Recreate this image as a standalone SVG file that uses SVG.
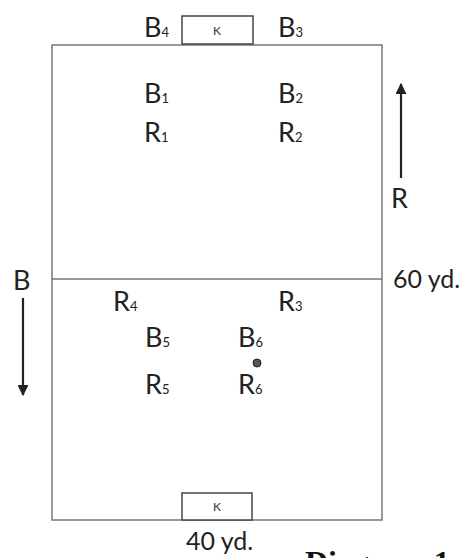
<svg xmlns="http://www.w3.org/2000/svg" width="467" height="558" viewBox="0 0 467 558">
  <style>
    .line { stroke: #777; stroke-width: 1.5; fill: none; }
    .goal { stroke: #444; stroke-width: 1.5; fill: #fff; }
    .arrow { stroke: #222; stroke-width: 2.2; fill: none; }
    .lbl { font-family: Lato, "Open Sans", sans-serif; font-size: 27px; fill: #222; }
    .sub { font-size: 13px; }
    .dim { font-family: Lato, "Open Sans", sans-serif; font-size: 25px; fill: #222; }
    .k { font-family: Lato, "Open Sans", sans-serif; font-size: 12px; fill: #333; text-anchor: middle; }
    .cap { font-family: "Liberation Serif", serif; font-weight: bold; font-size: 32px; fill: #111; }
  </style>
  <defs>
    <marker id="head" viewBox="0 0 10 10" refX="9" refY="5" markerWidth="5" markerHeight="5" orient="auto">
      <path d="M0,0 L10,5 L0,10 z" fill="#222"/>
    </marker>
  </defs>

  <!-- pitch outline and halfway line -->
  <g id="pitch">
    <rect class="line" x="52" y="45" width="330" height="475"/>
    <line class="line" x1="52" y1="279" x2="382" y2="279"/>
  </g>

  <!-- goals -->
  <g id="goal-top">
    <rect class="goal" x="182" y="16" width="71" height="28"/>
    <text class="k" x="217" y="35">K</text>
  </g>
  <g id="goal-bottom">
    <rect class="goal" x="182" y="493" width="70" height="27"/>
    <text class="k" x="217" y="511">K</text>
  </g>

  <!-- players -->
  <g id="B4"><text class="lbl" x="144" y="37">B<tspan class="sub">4</tspan></text></g>
  <g id="B3"><text class="lbl" x="278" y="37">B<tspan class="sub">3</tspan></text></g>
  <g id="B1"><text class="lbl" x="144" y="103">B<tspan class="sub">1</tspan></text></g>
  <g id="B2"><text class="lbl" x="278" y="103">B<tspan class="sub">2</tspan></text></g>
  <g id="R1"><text class="lbl" x="144" y="142">R<tspan class="sub">1</tspan></text></g>
  <g id="R2"><text class="lbl" x="278" y="142">R<tspan class="sub">2</tspan></text></g>
  <g id="R4"><text class="lbl" x="113" y="311">R<tspan class="sub">4</tspan></text></g>
  <g id="R3"><text class="lbl" x="278" y="311">R<tspan class="sub">3</tspan></text></g>
  <g id="B5"><text class="lbl" x="145" y="347">B<tspan class="sub">5</tspan></text></g>
  <g id="B6"><text class="lbl" x="238" y="347">B<tspan class="sub">6</tspan></text></g>
  <g id="R5"><text class="lbl" x="145" y="394">R<tspan class="sub">5</tspan></text></g>
  <g id="R6"><text class="lbl" x="238" y="394">R<tspan class="sub">6</tspan></text></g>

  <!-- ball -->
  <g id="ball"><circle cx="257" cy="363" r="4" fill="#555" stroke="#222" stroke-width="1"/></g>

  <!-- attacking directions -->
  <g id="connectors">
    <line class="arrow" x1="401" y1="178" x2="401" y2="84" marker-end="url(#head)"/>
    <line class="arrow" x1="23" y1="298" x2="23" y2="395" marker-end="url(#head)"/>
  </g>
  <g id="dir-R"><text class="lbl" x="391" y="208">R</text></g>
  <g id="dir-B"><text class="lbl" x="13" y="290">B</text></g>

  <!-- dimensions -->
  <g id="dim-length"><text class="dim" x="393" y="288">60 yd.</text></g>
  <g id="dim-width"><text class="dim" x="186" y="550">40 yd.</text></g>

  <!-- caption, running off the lower edge -->
  <text class="cap" x="305" y="573">Diagram 1</text>
</svg>
